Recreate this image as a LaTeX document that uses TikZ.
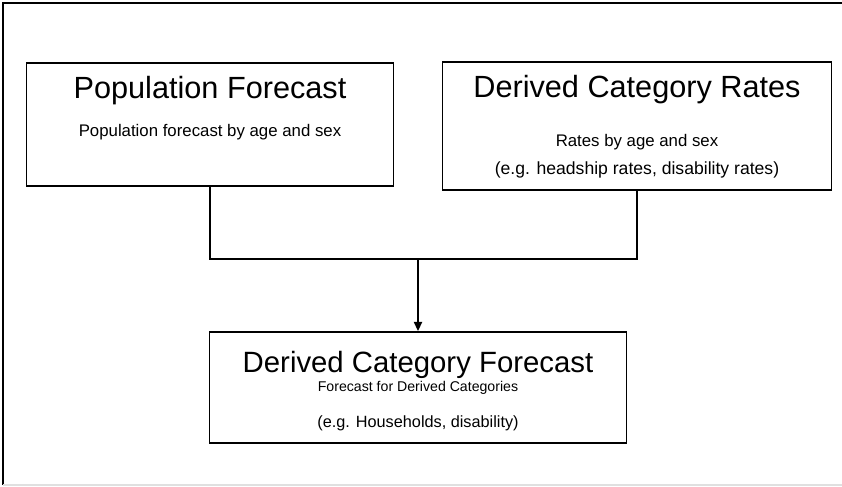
\documentclass[tikz,border=0pt]{standalone}
\usepackage{fontspec}
\setmainfont{Liberation Sans}
\usetikzlibrary{arrows.meta}
\tikzset{
  box/.style={draw=black, line width=1.2pt, rectangle, inner sep=0pt, fill=white},
  ttl/.style={anchor=base, inner sep=0pt, font=\fontsize{23pt}{27pt}\selectfont},
  sub/.style={anchor=base, inner sep=0pt, font=\fontsize{12.6pt}{15pt}\selectfont},
  conn/.style={draw=black, line width=1.5pt},
}
\begin{document}
\begin{tikzpicture}[x=0.75pt, y=-0.75pt]
\useasboundingbox (0,0) rectangle (842,486);
% outer frame
\draw[line width=1.2pt, black] (3,485) -- (3,3) -- (842,3);
\draw[line width=0.8pt, black!12] (3,485) -- (842,485);
% boxes
\node[box, minimum width=367*0.75pt, minimum height=123*0.75pt] (pop) at (210,124.5) {};
\node[box, minimum width=389*0.75pt, minimum height=128*0.75pt] (rates) at (637,126) {};
\node[box, minimum width=417*0.75pt, minimum height=111*0.75pt] (dcf) at (418,387.5) {};
% texts
\node[ttl] (popt) at (210,98) {Population Forecast};
\node[sub] (pops) at (210,136) {Population forecast by age and sex};
\node[ttl] (ratest) at (637,97) {Derived Category Rates};
\node[sub] (ratess1) at (637,146) {Rates by age and sex};
\node[sub, font=\fontsize{13.2pt}{15pt}\selectfont] (ratess2) at (637,174) {(e.g. headship rates, disability rates)};
\node[ttl, font=\fontsize{22pt}{27pt}\selectfont] (dcft) at (418,372) {Derived Category Forecast};
\node[sub, font=\fontsize{10.6pt}{14pt}\selectfont] (dcfs1) at (418,391) {Forecast for Derived Categories};
\node[sub, font=\fontsize{12.2pt}{14pt}\selectfont] (dcfs2) at (418,427) {(e.g. Households, disability)};
% connectors
\coordinate (j) at (418,259);
\draw[conn] (pop.south) |- (j);
\draw[conn] (rates.south) |- (j);
\draw[conn, -{Triangle[length=7pt, width=6pt]}] (j) -- (dcf.north);
\end{tikzpicture}
\end{document}
